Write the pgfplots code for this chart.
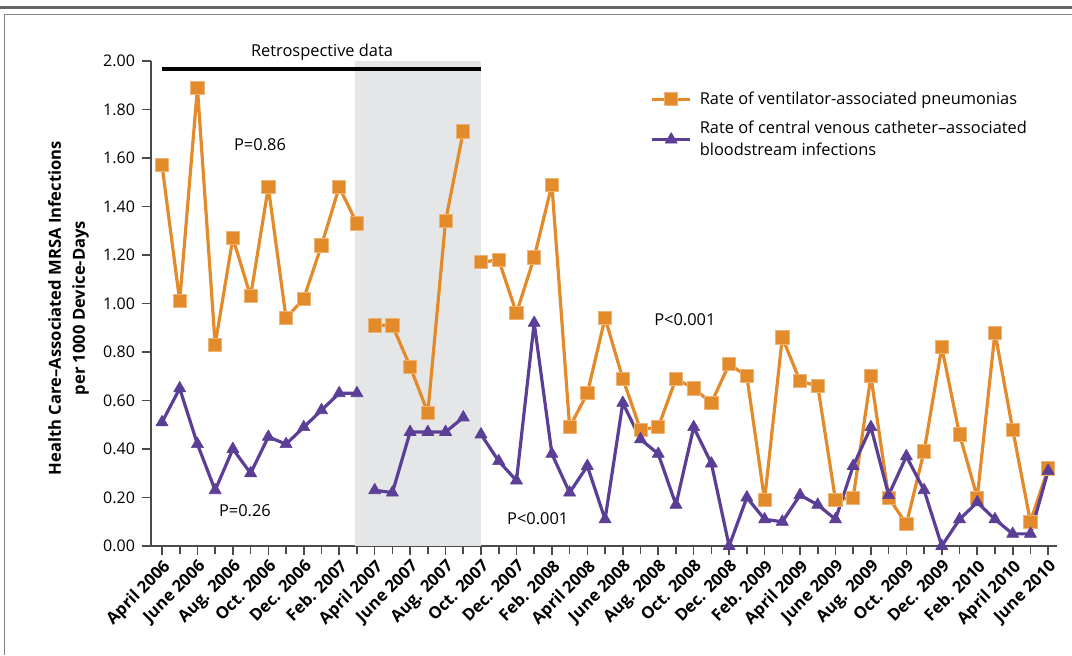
\documentclass[border=0pt]{standalone}
\usepackage{fontspec}
\setmainfont{Open Sans}
\usepackage{pgfplots}
\pgfplotsset{compat=1.18}
\definecolor{vap}{HTML}{E38A2A}
\definecolor{clabsi}{HTML}{5B3F96}
\definecolor{retroshade}{HTML}{E5E6E8}
\definecolor{axisgray}{HTML}{4A4A4A}
\begin{document}
\begin{tikzpicture}
\useasboundingbox (0,0) rectangle (536pt,327.5pt);
\draw[line width=1.5pt, color=axisgray!85] (0,323.5pt) -- (536pt,323.5pt);
\draw[line width=0.6pt, gray] (2pt,320.3pt) -- (536pt,320.3pt);
\draw[line width=0.6pt, gray] (2.3pt,320.3pt) -- (2.3pt,0);
\begin{axis}[
  at={(75.5pt,54.5pt)}, anchor=south west,
  scale only axis, width=453pt, height=242.5pt,
  xmin=-0.62, xmax=50.5, ymin=0, ymax=2,
  clip=false, unbounded coords=jump,
  axis lines=left, axis line style={-, axisgray, line width=0.85pt},
  xtick={0,2,...,50}, minor xtick={1,3,...,49},
  xticklabels={April 2006, June 2006, Aug. 2006, Oct. 2006, Dec. 2006, Feb. 2007, April 2007, June 2007, Aug. 2007, Oct. 2007, Dec. 2007, Feb. 2008, April 2008, June 2008, Aug. 2008, Oct. 2008, Dec. 2008, Feb. 2009, April 2009, June 2009, Aug. 2009, Oct. 2009, Dec. 2009, Feb. 2010, April 2010, June 2010},
  x tick label style={rotate=45, anchor=north east, font=\bfseries\fontsize{8.3}{10}\selectfont, inner sep=1pt},
  ytick={0,0.2,0.4,0.6,0.8,1,1.2,1.4,1.6,1.8,2},
  yticklabel style={font=\fontsize{8}{10}\selectfont, /pgf/number format/fixed, /pgf/number format/fixed zerofill, /pgf/number format/precision=2},
  /pgf/number format/assume math mode=true,
  tick style={axisgray, line width=0.8pt},
  tick align=outside, major tick length=4.5pt, minor tick length=4pt,
  ylabel={Health Care–Associated MRSA Infections\\per 1000 Device-Days},
  ylabel style={at={(axis description cs:-0.091,0.4907)}, anchor=center, align=center, font=\bfseries\fontsize{8.3}{12}\selectfont},
  legend style={draw=none, fill=none, at={(axis description cs:0.551,0.94)}, anchor=north west, font=\fontsize{8.2}{10.75}\selectfont, row sep=6pt, inner sep=0pt, nodes={inner sep=0.5pt}, cells={align=left}, /tikz/every odd column/.append style={column sep=3.5pt}},
  legend cell align=left,
  legend image code/.code={\draw[mark repeat=2,mark phase=2,#1] plot coordinates {(0pt,0pt) (9.5pt,0pt) (19pt,0pt)};},
]
\fill[retroshade] (axis cs:10.9,0) rectangle (axis cs:18,2);
\draw[line width=2pt, black] (axis cs:0,1.966) -- (axis cs:18,1.966);
\node[font=\fontsize{8.2}{10}\selectfont] at (axis cs:9.03,2.036) {Retrospective data};

\addplot[vap, line width=1.6pt, line join=round, mark=square*, mark size=3.3pt, mark options={fill=vap, draw=vap!65!white, line width=0.4pt}] coordinates {
 (0,1.57) (1,1.01) (2,1.89) (3,0.83) (4,1.27) (5,1.03) (6,1.48) (7,0.94) (8,1.02) (9,1.24) (10,1.48) (11,1.33)
 (11.5,nan)
 (12,0.91) (13,0.91) (14,0.74) (15,0.55) (16,1.34) (17,1.71)
 (17.5,nan)
 (18,1.17) (19,1.18) (20,0.96) (21,1.19) (22,1.49) (23,0.49) (24,0.63) (25,0.94) (26,0.69) (27,0.48)
 (28,0.49) (29,0.69) (30,0.65) (31,0.59) (32,0.75) (33,0.70) (34,0.19) (35,0.86) (36,0.68) (37,0.66)
 (38,0.19) (39,0.20) (40,0.70) (41,0.20) (42,0.09) (43,0.39) (44,0.82) (45,0.46) (46,0.20) (47,0.88)
 (48,0.48) (49,0.10) (50,0.32)
};
\addlegendentry{Rate of ventilator-associated pneumonias}

\addplot[clabsi, line width=1.6pt, line join=round, mark=triangle*, mark size=3.5pt, mark options={fill=clabsi, draw=clabsi, line width=0.3pt}] coordinates {
 (0,0.51) (1,0.65) (2,0.42) (3,0.23) (4,0.40) (5,0.30) (6,0.45) (7,0.42) (8,0.49) (9,0.56) (10,0.63) (11,0.63)
 (11.5,nan)
 (12,0.23) (13,0.22) (14,0.47) (15,0.47) (16,0.47) (17,0.53)
 (17.5,nan)
 (18,0.46) (19,0.35) (20,0.27) (21,0.92) (22,0.38) (23,0.22) (24,0.33) (25,0.11) (26,0.59) (27,0.44)
 (28,0.38) (29,0.17) (30,0.49) (31,0.34) (32,0.00) (33,0.20) (34,0.11) (35,0.10) (36,0.21) (37,0.17)
 (38,0.11) (39,0.33) (40,0.49) (41,0.21) (42,0.37) (43,0.23) (44,0.00) (45,0.11) (46,0.18) (47,0.11)
 (48,0.05) (49,0.05) (50,0.31)
};
\addlegendentry{Rate of central venous catheter–associated\\bloodstream infections}

\node[font=\fontsize{8.2}{10}\selectfont] at (axis cs:5.53,1.656) {P=0.86};
\node[font=\fontsize{8.2}{10}\selectfont] at (axis cs:4.68,0.147) {P=0.26};
\node[font=\fontsize{8.2}{10}\selectfont] at (axis cs:21.2,0.113) {P<0.001};
\node[font=\fontsize{8.2}{10}\selectfont] at (axis cs:29.5,0.935) {P<0.001};
\end{axis}
\end{tikzpicture}
\end{document}
